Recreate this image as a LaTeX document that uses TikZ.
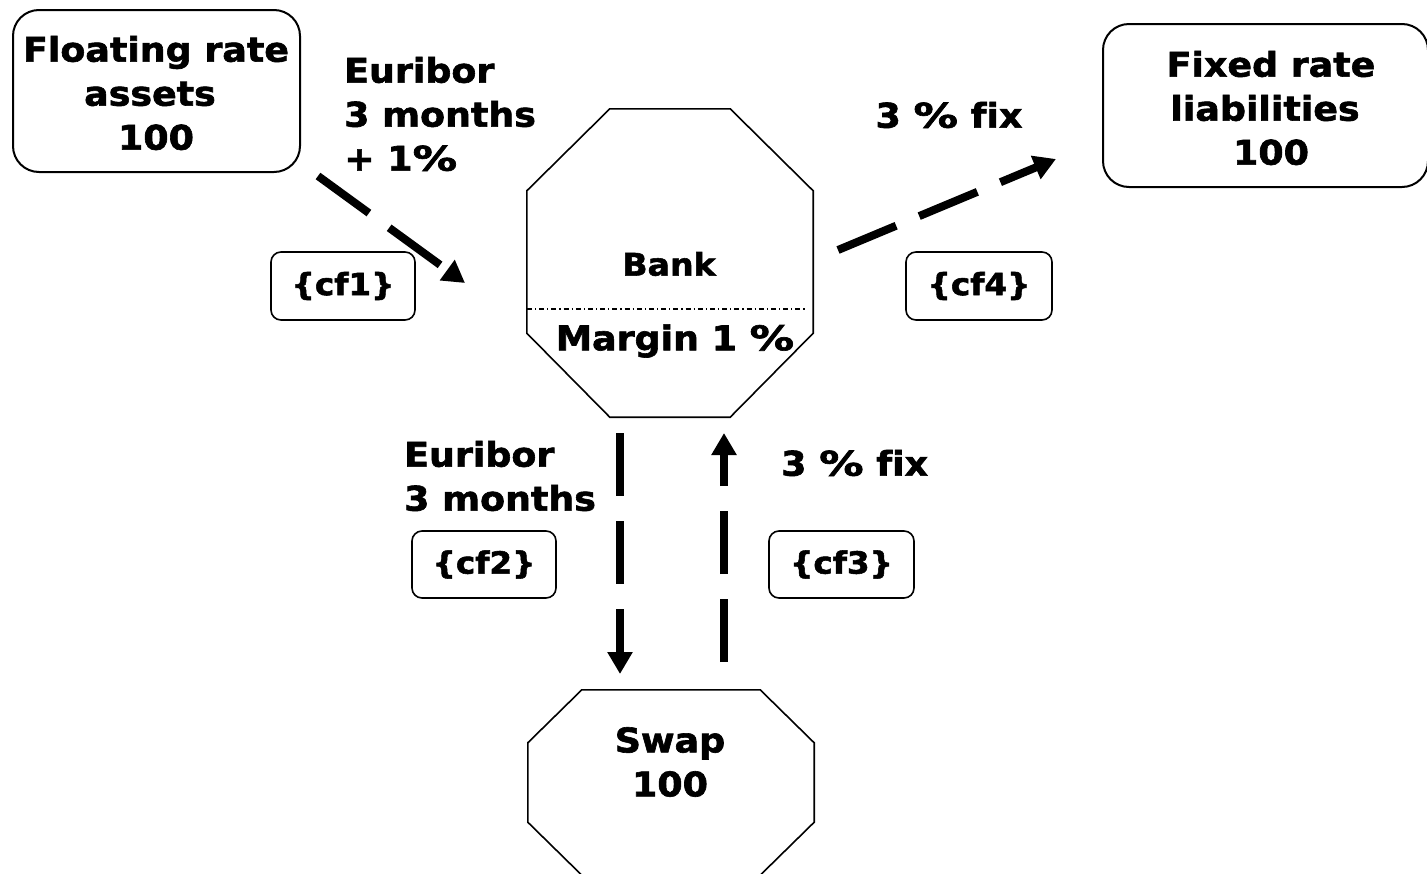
\documentclass[tikz,border=0pt]{standalone}
\usepackage{fontspec}
\newfontfamily\vb[FakeStretch=1.07,FakeBold=1.8,Ligatures=NoCommon]{DejaVu Sans Bold}
\usetikzlibrary{arrows.meta,calc}
\newcommand\pct{\scalebox{1.22}[1]{\%}}
\tikzset{
  txt/.style={font=\vb\fontsize{34}{44}\selectfont, align=center, inner sep=0pt},
  cftxt/.style={font=\vb\fontsize{30.5}{36}\selectfont, inner sep=0pt},
  bigbox/.style={draw, line width=2pt, rounded corners=26pt},
  cfbox/.style={draw, line width=1.6pt, rounded corners=10pt, minimum width=144pt, minimum height=68pt},
  ghost/.style={inner sep=0pt},
  flow/.style={line width=8pt, dash pattern=on 63pt off 25pt, -{Triangle[length=22pt,width=24pt]}},
  octo/.style={line width=1.6pt},
}
\begin{document}
\begin{tikzpicture}[x=1pt,y=-1pt]
\useasboundingbox (0,0) rectangle (1427,873);
% boxes
\node[bigbox, minimum width=287pt, minimum height=162pt] (fa) at (156.5,91) {};
\node[txt] (fat) at (156,93) {Floating rate\\assets\kern12pt\\100};
\node[bigbox, minimum width=325pt, minimum height=163pt] (fl) at (1265.5,105.5) {};
\node[txt] (flt) at (1271,108) {Fixed rate\\liabilities\kern12pt\\100};
% bank octagon
\node[ghost, minimum width=286pt, minimum height=308pt] (bank) at (670,263) {};
\draw[octo] ($(bank.north west)+(83,0)$) -- ($(bank.north east)+(-83,0)$)
  -- ($(bank.north east)+(0,82)$) -- ($(bank.south east)+(0,-84)$)
  -- ($(bank.south east)+(-83,0)$) -- ($(bank.south west)+(83,0)$)
  -- ($(bank.south west)+(0,-84)$) -- ($(bank.north west)+(0,82)$) -- cycle;
\coordinate (dl) at (527,309);
\coordinate (dr) at (806,309);
\draw[line width=1.2pt, dash pattern=on 5pt off 3pt on 1.2pt off 3pt] (dl) -- (dr);
\node[txt, font=\vb\fontsize{31}{40}\selectfont] (bankt) at (669,264) {Bank};
\node[txt] (margt) at (675,341) {Margin 1 \pct};
% swap octagon
\node[ghost, minimum width=286pt, minimum height=185pt] (swap) at (671,782.5) {};
\draw[octo] ($(swap.north west)+(54,0)$) -- ($(swap.north east)+(-54,0)$)
  -- ($(swap.north east)+(0,53)$) -- ($(swap.south east)+(0,-53)$)
  -- ($(swap.south east)+(-54,0)$) -- ($(swap.south west)+(54,0)$)
  -- ($(swap.south west)+(0,-53)$) -- ($(swap.north west)+(0,53)$) -- cycle;
\node[txt] (swapt) at (670,762) {Swap\\100};
% labels
\node[txt, align=left, anchor=west] (l1) at (344,114) {Euribor\\3 months\\+ 1\pct};
\node[txt] (l4) at (949,115) {3 \pct\ fix};
\node[txt, align=left, anchor=west] (l2) at (404,476) {Euribor\\3 months};
\node[txt, anchor=west] (l3) at (781,463) {3 \pct\ fix};
% cf boxes
\node[cfbox] (cf1) at (343,286) {};
\node[cftxt] at (cf1) {\{cf1\}};
\node[cfbox, minimum width=146pt] (cf4) at (979,286) {};
\node[cftxt] at (cf4) {\{cf4\}};
\node[cfbox, minimum height=67pt] (cf2) at (484,564.5) {};
\node[cftxt] at (cf2) {\{cf2\}};
\node[cfbox, minimum height=67pt, minimum width=145pt] (cf3) at (841.5,564.5) {};
\node[cftxt] at (cf3) {\{cf3\}};
% arrows
\coordinate (a1s) at (318,176);
\coordinate (a1e) at (465,283);
\coordinate (a4s) at (838,250);
\coordinate (a4e) at (1056,159);
\coordinate (a2s) at (620,433);
\coordinate (a2e) at (620,674);
\coordinate (a3s) at (724,662);
\coordinate (a3e) at (724,433);
\draw[flow] (a1s) -- (a1e);
\draw[flow] (a4s) -- (a4e);
\draw[flow] (a2s) -- (a2e);
\draw[flow] (a3s) -- (a3e);
\end{tikzpicture}
\end{document}
